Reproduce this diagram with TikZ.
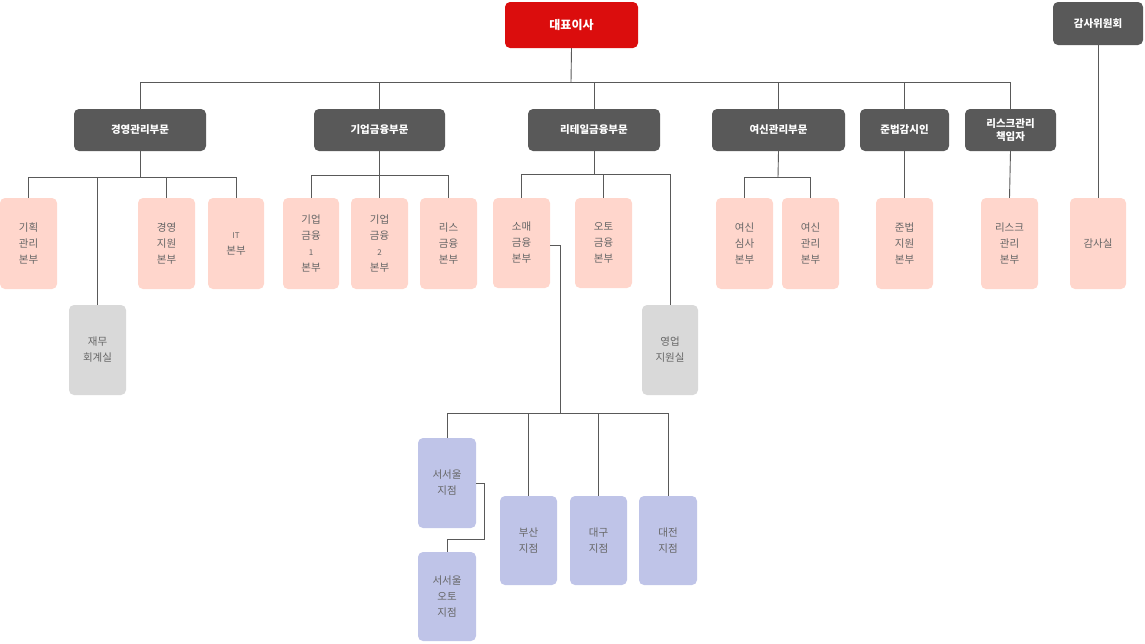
\documentclass[tikz,border=0pt]{standalone}
\usepackage{fontspec}
\setmainfont{Noto Sans CJK KR}
\begin{document}
\begin{tikzpicture}[x=1pt,y=-1pt,
 base/.style={rounded corners=5pt,inner sep=0pt,align=center,font=\fontsize{10.5}{16}\selectfont},
 dark/.style={base,fill=black!65,text=white,font=\fontsize{10.5}{13}\selectfont\bfseries},
 pink/.style={base,fill=red!60!orange!20!white,text=black!60},
 grey/.style={base,fill=black!15,text=black!60},
 blue/.style={base,fill=cyan!30!blue!25!white,text=black!60},
 ln/.style={draw=black!65,line width=0.9pt}]
\useasboundingbox (0,0) rectangle (1145,643);
\newcommand\bx[6]{\node[#1,minimum width=#4-#2,minimum height=#5-#3] (#6) at ({(#2+#4)/2},{(#3+#5)/2})}
\bx{base}{505}{2}{638}{48}{ceo} [fill=red!85!black!95,text=white,font=\fontsize{12}{14}\selectfont\bfseries] {대표이사};
\bx{dark}{1053}{2}{1143}{45}{audit} {감사위원회};
\bx{dark}{74}{109}{206}{151}{d1} {경영관리부문};
\bx{dark}{314}{109}{445}{151}{d2} {기업금융부문};
\bx{dark}{528}{109}{660}{151}{d3} {리테일금융부문};
\bx{dark}{712}{109}{845}{151}{d4} {여신관리부문};
\bx{dark}{860}{109}{949}{151}{d5} {준법감시인};
\bx{dark}{965}{109}{1056}{151}{d6} {리스크관리\\책임자};
\bx{pink}{0}{198}{57}{289}{a1} {기획\\관리\\본부};
\bx{pink}{138}{198}{195}{289}{a2} {경영\\지원\\본부};
\bx{pink}{208}{198}{264}{289}{a3} {{\fontsize{8}{10}\selectfont IT}\\본부};
\bx{grey}{69}{305}{126}{395}{a4} {재무\\회계실};
\bx{pink}{283}{198}{339}{289}{b1} {기업\\금융\\{\fontsize{8}{10}\selectfont 1}\\본부};
\bx{pink}{351}{198}{408}{289}{b2} {기업\\금융\\{\fontsize{8}{10}\selectfont 2}\\본부};
\bx{pink}{420}{198}{477}{289}{b3} {리스\\금융\\본부};
\bx{pink}{493}{198}{550}{288}{c1} {소매\\금융\\본부};
\bx{pink}{575}{198}{632}{288}{c2} {오토\\금융\\본부};
\bx{grey}{642}{305}{698}{395}{c3} {영업\\지원실};
\bx{pink}{716}{198}{773}{289}{e1} {여신\\심사\\본부};
\bx{pink}{782}{198}{839}{289}{e2} {여신\\관리\\본부};
\bx{pink}{876}{198}{933}{289}{f1} {준법\\지원\\본부};
\bx{pink}{981}{198}{1038}{289}{g1} {리스크\\관리\\본부};
\bx{pink}{1070}{198}{1126}{289}{h1} {감사실};
\bx{blue}{418}{438}{476}{528}{s1} {서서울\\지점};
\bx{blue}{500}{496}{557}{585}{s2} {부산\\지점};
\bx{blue}{570}{496}{627}{585}{s3} {대구\\지점};
\bx{blue}{639}{496}{697}{585}{s4} {대전\\지점};
\bx{blue}{418}{552}{476}{641}{s5} {서서울\\오토\\지점};
% top
\draw[ln] (ceo.south) -- (571,82);
\draw[ln] (d1.north) |- (d6.north|-0,82) -- (d6.north);
\foreach \n in {d2,d3,d4,d5} \draw[ln] (\n.north) -- (\n.north|-0,82);
\draw[ln] (audit.south) -- (h1.north);
% d1
\draw[ln] (d1.south) -- (140,177);
\draw[ln] (a1.north) |- (a3.north|-0,177) -- (a3.north);
\draw[ln] (a2.north) -- (a2.north|-0,177);
\draw[ln] (a4.north) -- (a4.north|-0,177);
% d2
\draw[ln] (d2.south) -- (b2.north);
\draw[ln] (b1.north) |- (b3.north|-0,175) -- (b3.north);
% d3
\draw[ln] (d3.south) -- (594,174);
\draw[ln] (c1.north) |- (c3.north|-0,174) -- (c3.north);
\draw[ln] (c2.north) -- (c2.north|-0,174);
% d4
\draw[ln] (d4.south) -- (778,177);
\draw[ln] (e1.north) |- (e2.north|-0,177) -- (e2.north);
\draw[ln] (d5.south) -- (f1.north);
\draw[ln] (d6.south) -- (g1.north);
% branches
\draw[ln] (c1.east|-0,245) -| (560,413);
\draw[ln] (s1.north) |- (s4.north|-0,413) -- (s4.north);
\draw[ln] (s2.north) -- (s2.north|-0,413);
\draw[ln] (s3.north) -- (s3.north|-0,413);
\draw[ln] (s1.east|-0,483) -| (484,539) -| (s5.north);
\end{tikzpicture}
\end{document}
